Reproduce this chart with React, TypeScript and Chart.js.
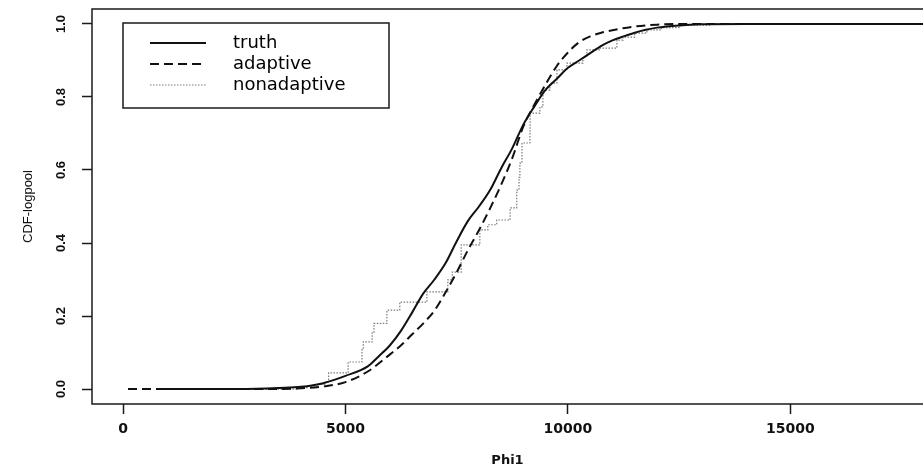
import React, { useEffect, useRef } from 'react';
import { Chart, registerables } from 'chart.js';

Chart.register(...registerables);

// ---- data ----
const seriesLabels = ['truth', 'adaptive', 'nonadaptive'];

const truthX = [750, 2000, 3000, 3500, 4000, 4500, 5000, 5500, 5750, 6000, 6250, 6500, 6750, 7000, 7250, 7500, 7750, 8000, 8250, 8500, 8750, 9000, 9250, 9500, 9750, 10000, 10250, 10500, 10750, 11000, 11250, 11500, 11750, 12000, 12500, 13000, 14000, 18500];
const truthP = [0, 0, 0.001, 0.003, 0.006, 0.016, 0.036, 0.062, 0.09, 0.12, 0.16, 0.21, 0.262, 0.3, 0.345, 0.405, 0.46, 0.5, 0.545, 0.605, 0.66, 0.725, 0.775, 0.82, 0.85, 0.88, 0.9, 0.92, 0.94, 0.955, 0.966, 0.976, 0.984, 0.99, 0.996, 0.999, 1, 1];

const adaptiveX = [112, 3000, 4000, 4500, 5000, 5500, 6000, 6250, 6500, 6750, 7000, 7250, 7500, 7750, 8000, 8250, 8500, 8750, 9000, 9250, 9500, 9750, 10000, 10250, 10500, 10750, 11000, 11500, 12000, 12500, 18500];
const adaptiveP = [0, 0, 0.002, 0.007, 0.019, 0.048, 0.095, 0.12, 0.15, 0.18, 0.215, 0.265, 0.32, 0.38, 0.435, 0.495, 0.56, 0.633, 0.72, 0.78, 0.835, 0.885, 0.922, 0.95, 0.966, 0.976, 0.983, 0.993, 0.998, 1, 1];

const nonadaptiveX = [3000, 3900, 4150, 4400, 4550, 4620, 5060, 5370, 5400, 5600, 5640, 5930, 6220, 6830, 7300, 7400, 7600, 8020, 8200, 8400, 8700, 8850, 8900, 8920, 8966, 9145, 9150, 9370, 9437, 9595, 9752, 9977, 10336, 10426, 10718, 11100, 11235, 11500, 11774, 12100, 12516, 13200, 18500];
const nonadaptiveP = [0, 0.004, 0.008, 0.013, 0.02, 0.044, 0.074, 0.107, 0.129, 0.156, 0.18, 0.216, 0.238, 0.266, 0.299, 0.32, 0.395, 0.436, 0.45, 0.463, 0.496, 0.545, 0.58, 0.619, 0.674, 0.7, 0.756, 0.773, 0.819, 0.838, 0.874, 0.893, 0.91, 0.929, 0.934, 0.956, 0.964, 0.975, 0.984, 0.99, 0.997, 1, 1];

const xTicks = [0, 5000, 10000, 15000];
const yTicks = [0, 0.2, 0.4, 0.6, 0.8, 1.0];
const xTitle = 'Phi1';
const yTitle = 'CDF-logpool';

const X_MIN = -697;
const X_MAX = 17980;
const Y_MIN = -0.041;
const Y_MAX = 1.041;

const toPoints = (xs: number[], ys: number[]) => xs.map((x, i) => ({ x, y: ys[i] }));

const framePlugin = {
  id: 'frameAndLegend',
  afterDraw(chart: any) {
    const { ctx, chartArea: a } = chart;
    ctx.save();
    ctx.strokeStyle = '#1a1a1a';
    ctx.lineWidth = 1.5;
    ctx.beginPath();
    ctx.moveTo(a.right + 5, a.top);
    ctx.lineTo(a.left, a.top);
    ctx.lineTo(a.left, a.bottom);
    ctx.lineTo(a.right + 5, a.bottom);
    ctx.stroke();

    // legend box
    const bx = a.left + 31;
    const by = a.top + 14;
    const bw = 266;
    const bh = 85;
    ctx.fillStyle = '#ffffff';
    ctx.fillRect(bx, by, bw, bh);
    ctx.strokeStyle = '#1a1a1a';
    ctx.lineWidth = 1.5;
    ctx.strokeRect(bx, by, bw, bh);
    const dsets = chart.data.datasets;
    ctx.font = '18px "DejaVu Sans"';
    ctx.textBaseline = 'middle';
    ctx.textAlign = 'left';
    dsets.forEach((ds: any, i: number) => {
      const y = by + 20 + i * 21;
      ctx.save();
      ctx.strokeStyle = ds.borderColor;
      ctx.lineWidth = ds.borderWidth;
      ctx.setLineDash(ds.borderDash || []);
      ctx.beginPath();
      ctx.moveTo(bx + 27, y);
      ctx.lineTo(bx + 83, y);
      ctx.stroke();
      ctx.restore();
      ctx.fillStyle = '#000';
      ctx.fillText(ds.label, bx + 110, y);
    });
    ctx.restore();
  },
};

export default function App() {
  const ref = useRef<HTMLCanvasElement | null>(null);

  useEffect(() => {
    document.body.style.margin = '0';
    const canvas = ref.current;
    if (!canvas) return;
    const chart = new Chart(canvas, {
      type: 'line',
      data: {
        datasets: [
          {
            label: seriesLabels[0],
            data: toPoints(truthX, truthP),
            borderColor: '#111111',
            borderWidth: 2,
            borderDash: [],
            pointRadius: 0,
            cubicInterpolationMode: 'monotone',
            fill: false,
          },
          {
            label: seriesLabels[1],
            data: toPoints(adaptiveX, adaptiveP),
            borderColor: '#111111',
            borderWidth: 2,
            borderDash: [9, 5],
            pointRadius: 0,
            cubicInterpolationMode: 'monotone',
            fill: false,
          },
          {
            label: seriesLabels[2],
            data: toPoints(nonadaptiveX, nonadaptiveP),
            borderColor: '#7a7a7a',
            borderWidth: 1.2,
            borderDash: [1.5, 1.5],
            pointRadius: 0,
            stepped: true,
            fill: false,
          },
        ],
      },
      options: {
        animation: false,
        responsive: false,
        devicePixelRatio: 1,
        layout: { padding: { top: 9, right: 0, left: 0, bottom: 0 } },
        plugins: {
          legend: { display: false },
          tooltip: { enabled: false },
        },
        scales: {
          x: {
            type: 'linear',
            min: X_MIN,
            max: X_MAX,
            afterBuildTicks: (scale: any) => {
              scale.ticks = xTicks.map((v) => ({ value: v }));
            },
            afterFit: (scale: any) => {
              scale.height = 67;
              scale.paddingLeft = 0;
              scale.paddingRight = 0;
            },
            border: { display: false },
            grid: {
              display: true,
              drawOnChartArea: false,
              drawTicks: true,
              tickLength: 10,
              tickWidth: 1.5,
              tickColor: '#1a1a1a',
            },
            ticks: {
              color: '#111',
              font: { family: '"DejaVu Sans"', size: 14, weight: 'bold' },
              padding: 7,
              maxRotation: 0,
              minRotation: 0,
              callback: (v: any) => String(v),
            },
            title: {
              display: true,
              text: xTitle,
              color: '#111',
              font: { family: '"DejaVu Sans"', size: 13, weight: 'bold' },
              padding: { top: 0, bottom: 3 },
            },
          },
          y: {
            type: 'linear',
            min: Y_MIN,
            max: Y_MAX,
            afterBuildTicks: (scale: any) => {
              scale.ticks = yTicks.map((v) => ({ value: v }));
            },
            afterFit: (scale: any) => {
              scale.width = 92;
              scale.paddingTop = 0;
              scale.paddingBottom = 0;
            },
            border: { display: false },
            grid: {
              display: true,
              drawOnChartArea: false,
              drawTicks: true,
              tickLength: 10,
              tickWidth: 1.5,
              tickColor: '#1a1a1a',
            },
            ticks: {
              color: '#111',
              font: { family: '"Liberation Sans"', size: 13, weight: 'bold' },
              padding: 12,
              minRotation: 90,
              maxRotation: 90,
              crossAlign: 'center',
              callback: (v: any) => Number(v).toFixed(1),
            },
            title: {
              display: true,
              text: yTitle,
              color: '#111',
              font: { family: '"Liberation Sans"', size: 13 },
              padding: { top: 21, bottom: 0 },
            },
          },
        },
      },
      plugins: [framePlugin],
    } as any);
    return () => chart.destroy();
  }, []);

  return (
    <div style={{ position: 'fixed', left: 0, top: 0, width: 923, height: 471, background: '#fff' }}>
      <canvas ref={ref} width={923} height={471} style={{ width: 923, height: 471, display: 'block' }} />
    </div>
  );
}
